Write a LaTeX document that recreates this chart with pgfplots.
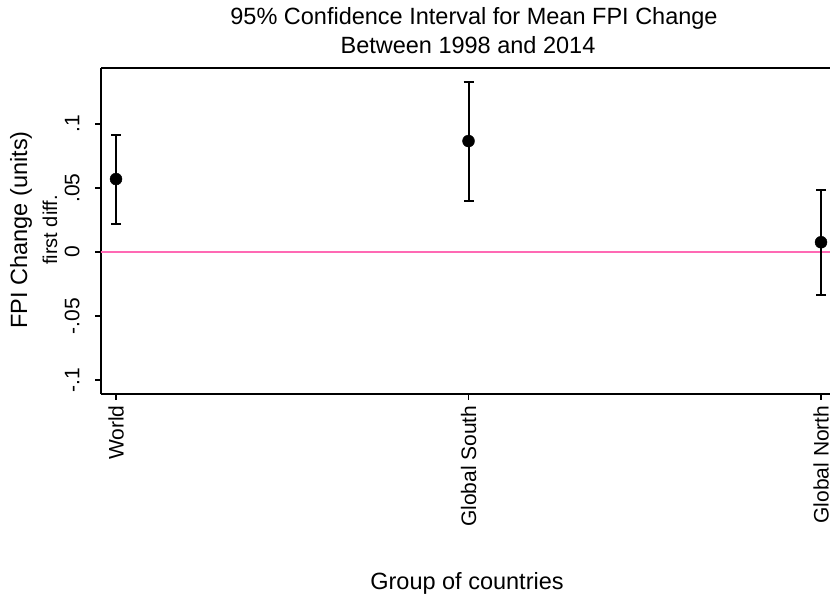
\documentclass[border=0pt]{standalone}
\usepackage{pgfplots}
\pgfplotsset{compat=1.18}
\usepackage{fontspec}
\setmainfont{Liberation Sans}
\definecolor{zeropink}{RGB}{255,105,180}
\begin{document}
\begin{tikzpicture}[x=1bp,y=1bp]
\path[use as bounding box] (0,0) rectangle (830,601);
\begin{axis}[
  at={(101bp,207bp)}, anchor=south west,
  scale only axis, width=729bp, height=326bp,
  xmin=-0.0426, xmax=2.0255, ymin=-0.111, ymax=0.1438,
  axis x line*=box, axis y line*=left,
  axis line style={black, line width=1.6bp},
  xtick pos=bottom, ytick pos=left,
  xtick={0,1,2}, xticklabels={World, Global South, Global North},
  ytick={-0.1,-0.05,0,0.05,0.1}, yticklabels={-.1,-.05,0,.05,.1},
  tick align=outside, major tick length=6bp,
  tick style={black, line width=1.4bp},
  xticklabel shift=2bp,
  yticklabel shift=12bp,
  x tick label style={rotate=90, anchor=east, font=\fontsize{21bp}{24bp}\selectfont},
  y tick label style={rotate=90, anchor=south, font=\fontsize{21bp}{24bp}\selectfont},
  /pgf/number format/assume math mode=true,
]
\addplot[zeropink, line width=1.8bp] coordinates {(-0.0426,0) (2.0255,0)};
\addplot[only marks, mark=*, mark size=6bp, black,
  error bars/.cd, y dir=both, y explicit,
  error mark=-, error mark options={rotate=90, black, line width=2bp, mark size=5bp},
  error bar style={black, line width=2bp}]
  table[x=x, y=y, y error plus=ep, y error minus=em] {
x y ep em
0 0.0570 0.0344 0.0351
1 0.0867 0.0463 0.0467
2 0.0076 0.0408 0.0412
};
\end{axis}
\node[font=\fontsize{23.5bp}{27bp}\selectfont] at (474,583) {95\% Confidence Interval for Mean FPI Change};
\node[font=\fontsize{23.5bp}{27bp}\selectfont] at (468,556) {Between 1998 and 2014};
\node[font=\fontsize{23.5bp}{27bp}\selectfont] at (467,18) {Group of countries};
\node[rotate=90, font=\fontsize{23.5bp}{27bp}\selectfont] at (21,371) {FPI Change (units)};
\node[rotate=90, font=\fontsize{20bp}{24bp}\selectfont] at (50,371) {first diff.};
\end{tikzpicture}
\end{document}
